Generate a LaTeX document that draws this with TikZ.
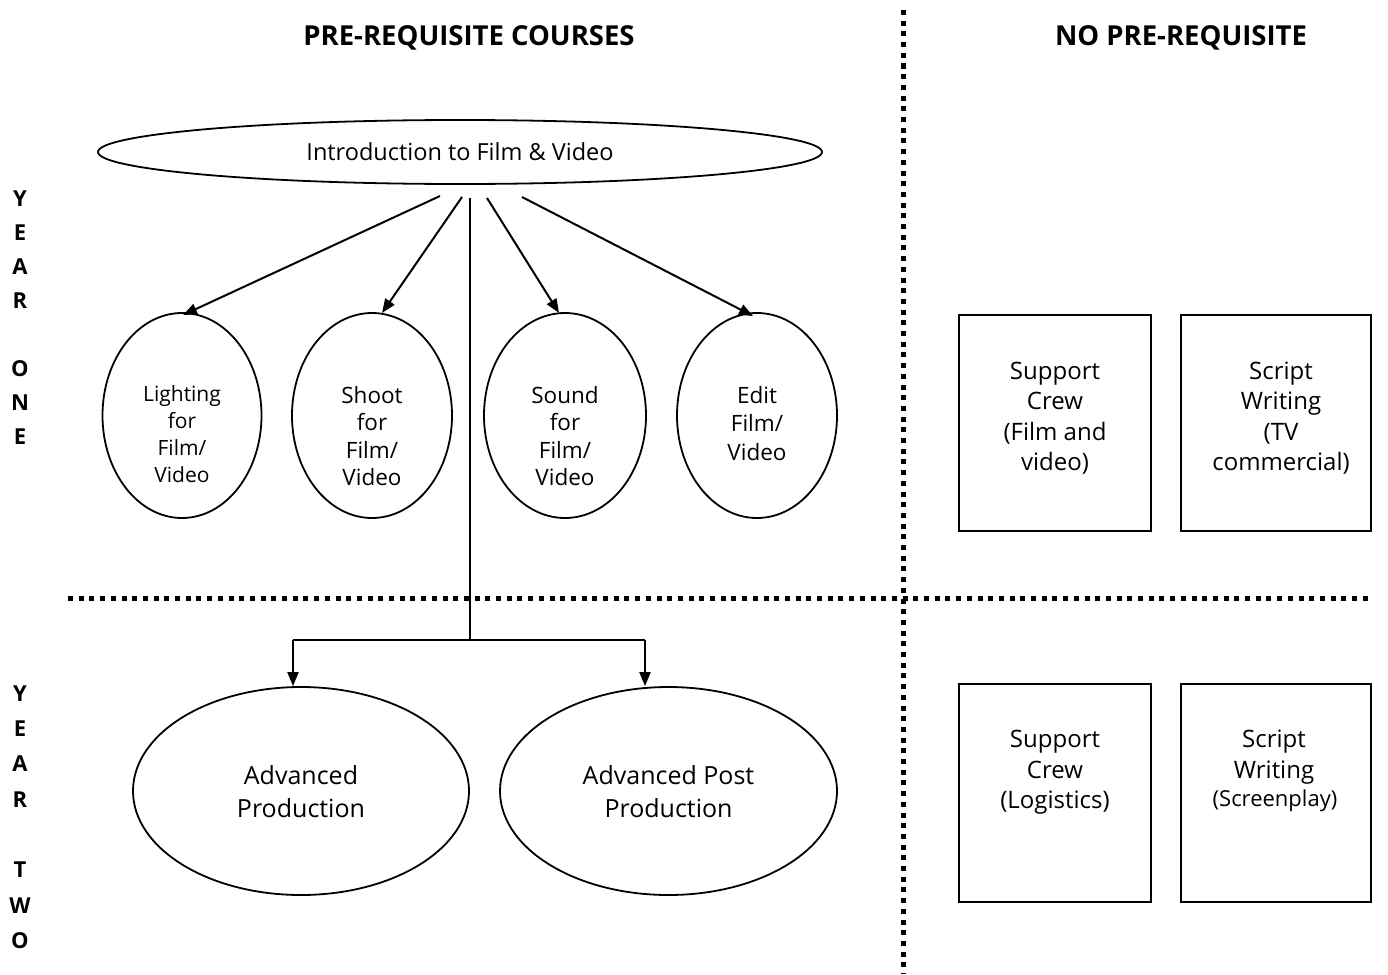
\documentclass[tikz,border=0pt]{standalone}
\usepackage{fontspec}
\setmainfont{Open Sans}
\usetikzlibrary{shapes.geometric,arrows.meta}
\begin{document}
\begin{tikzpicture}[x=1pt,y=-1pt,
  every node/.style={font=\fontsize{23.5}{30.5}\selectfont, align=center, inner sep=0pt},
  oval/.style={ellipse, draw, line width=1.8pt, inner sep=0pt},
  box/.style={draw, line width=1.6pt, minimum width=192pt, minimum height=216pt, inner sep=0pt},
  sep/.style={line width=5pt, dash pattern=on 5pt off 5.7pt},
  conn/.style={line width=2pt},
  arr/.style={line width=2pt, -{Triangle[length=14pt,width=11pt]}},
  head/.style={font=\fontsize{27.5}{30}\selectfont\bfseries},
  yearlbl/.style={font=\fontsize{22}{34}\selectfont\bfseries},
  boxtxt/.style={font=\fontsize{24}{30.5}\selectfont},
  small/.style={font=\fontsize{21}{27}\selectfont}
]
\useasboundingbox (0,0) rectangle (1388,974);

% headers
\node[head] (h1) at (469,38) {PRE-REQUISITE COURSES};
\node[head] (h2) at (1181,38) {NO PRE-REQUISITE};

% separators
\coordinate (vt) at (903,10);
\coordinate (vb) at (903,974);
\coordinate (hl) at (68,598);
\coordinate (hr) at (1368,598);
\draw[sep] (vt) -- (vb);
\draw[sep] (hl) -- (hr);

% year labels
\node[yearlbl] (y1) at (20,318) {Y\\E\\A\\R\\[34pt]O\\N\\E};
\node[yearlbl, font=\fontsize{22}{35.3}\selectfont\bfseries] (y2) at (20,817) {Y\\E\\A\\R\\[35.3pt]T\\W\\O};

% top ellipse
\node[oval, minimum width=724pt, minimum height=64pt] (intro) at (460,152) {Introduction to Film \& Video};

% year one ellipses
\node[oval, minimum width=159pt, minimum height=205pt] (light) at (182,415.5) {};
\node[oval, minimum width=160pt, minimum height=205pt] (shoot) at (372,415.5) {};
\node[oval, minimum width=162pt, minimum height=205pt] (sound) at (565,415.5) {};
\node[oval, minimum width=160pt, minimum height=205pt] (edit) at (757,415.5) {};

\node[small] (tlight) at (182,434) {Lighting\\for\\Film/\\Video};
\node[font=\fontsize{22.5}{27.3}\selectfont] (tshoot) at (372,436) {Shoot\\for\\Film/\\Video};
\node[font=\fontsize{22.5}{27.3}\selectfont] (tsound) at (565,436) {Sound\\for\\Film/\\Video};
\node[font=\fontsize{22.5}{28.5}\selectfont] (tedit) at (757,423.5) {Edit\\Film/\\Video};

% arrows from intro
\coordinate (s1) at (440,196);
\coordinate (s2) at (462,197);
\coordinate (s3) at (487,198);
\coordinate (s4) at (522,197);
\coordinate (s5) at (470,198);
\coordinate (e1) at (183,315);
\coordinate (e2) at (382,313);
\coordinate (e3) at (559,313);
\coordinate (e4) at (753,316);
\draw[arr] (s1) -- (e1);
\draw[arr] (s2) -- (e2);
\draw[arr] (s3) -- (e3);
\draw[arr] (s4) -- (e4);

% year two ellipses
\node[oval, minimum width=336pt, minimum height=208pt] (adv) at (301,791) {};
\node[oval, minimum width=337pt, minimum height=208pt] (advpost) at (668.5,791) {};
\node[font=\fontsize{25}{33}\selectfont] (tadv) at (301,791.5) {Advanced\\Production};
\node[font=\fontsize{25}{33}\selectfont] (tadvpost) at (668.5,791.5) {Advanced Post\\Production};

% tree connector
\coordinate (j) at (470,640);
\coordinate (jl) at (293,640);
\coordinate (jr) at (645,640);
\draw[conn] (s5) -- (j);
\draw[conn] (jl) -- (jr);
\draw[arr] (jl) -- (adv.north -| jl);
\draw[arr] (jr) -- (advpost.north -| jr);

% boxes year one
\node[box] (sc1) at (1055,423) {};
\node[box, minimum width=190pt] (sw1) at (1276,423) {};
\node[boxtxt] (tsc1) at (1055,418) {Support\\Crew\\(Film and\\video)};
\node[boxtxt] (tsw1) at (1281,418) {Script\\Writing\\(TV\\commercial)};

% boxes year two
\node[box, minimum height=218pt] (sc2) at (1055,793) {};
\node[box, minimum width=190pt, minimum height=218pt] (sw2) at (1276,793) {};
\node[boxtxt] (tsc2) at (1055,772.5) {Support\\Crew\\(Logistics)};
\node[boxtxt] (tsw2a) at (1274,757) {Script\\Writing};
\node[font=\fontsize{22}{27}\selectfont] (tsw2b) at (1275,801) {(Screenplay)};
\end{tikzpicture}
\end{document}
